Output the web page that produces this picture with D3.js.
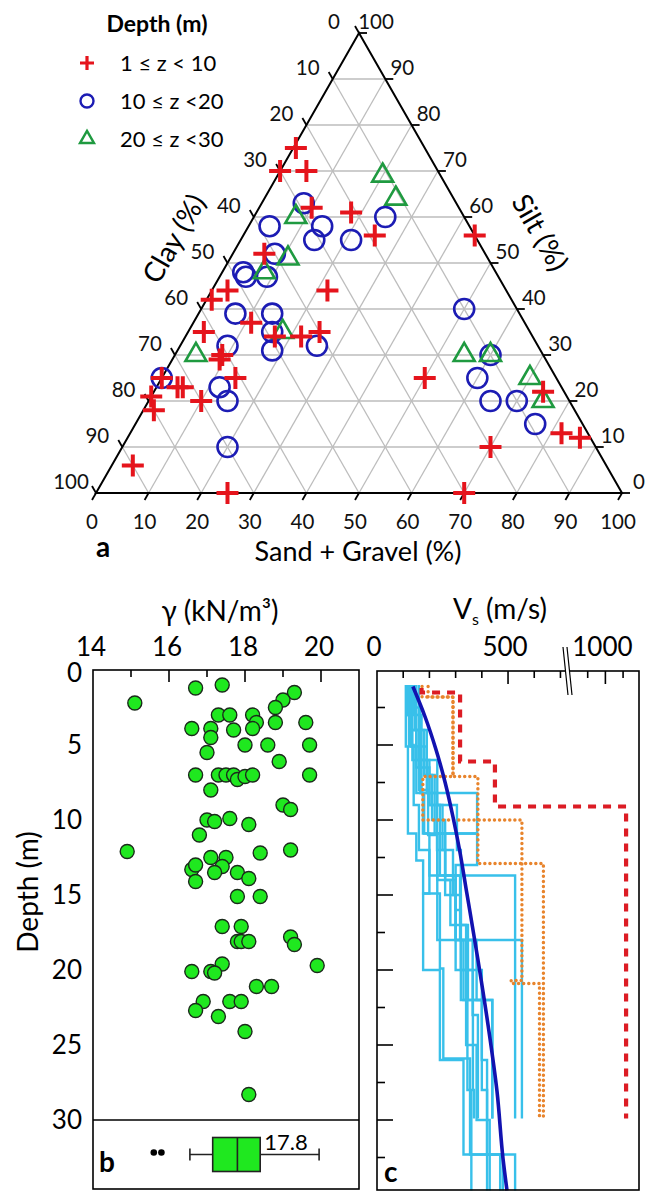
<!DOCTYPE html>
<html>
<head>
<meta charset="utf-8">
<script src="https://cdn.jsdelivr.net/npm/d3@7"></script>
<style>
  html, body { margin: 0; padding: 0; background: #fff; }
  svg { display: block; font-family: Lato, "Open Sans", sans-serif; }
</style>
</head>
<body>
<svg id="chart" width="645" height="1191"></svg>
<script>
// ─── Data ────────────────────────────────────────────────────────────────────

// Ternary samples: [sand + gravel %, silt %]  (clay = 100 - sand - silt)
const shallowPts = [[0.5,75],[0,70],[5,70],[10,62],[18,61],[25,56],[44,56],[6,52],[3,44],[1,42],
  [22,44],[11,37],[3,35],[22,34],[25,35],[9,30],[9,29],[14,25],[0,25],[4,23],[5,23],[0,21],
  [2,18],[10,20],[4,6],[25,0],[50,25],[74,22],[70,10],[70,0],[82,13],[86,12],[17,34]];
const midPts = [[8,63],[4,58],[14,58],[14,55],[21,55],[25,60],[8,52],[4,48],[5,47],[9,47],
  [7,39],[14,39],[16,35],[9,32],[18,31],[26,32],[0,25],[12,23],[15,20],[20,10],[50,40],
  [60,30],[60,25],[65,20],[70,20],[76,15]];
const deepPts = [[20,69],[25,64],[8,60],[11,51],[8,48],[18,35],[4,30],[55,30],[60,30],[70,25],[75,20]];

const legendLabels = ['1 \u2264 z < 10', '10 \u2264 z <20', '20 \u2264 z <30'];
const ternTicks = d3.range(0, 101, 10);

// Unit weight vs depth: [gamma kN/m3, depth m]
const gammaPts = [[15.1,2.2],[16.7,1.2],[17.4,1.0],[19.3,1.5],[19.0,2.0],[18.8,2.5],[17.3,3.0],
  [17.6,3.0],[18.2,3.0],[18.3,3.5],[18.8,3.5],[19.6,3.5],[16.6,3.9],[17.1,3.9],[17.7,4.0],
  [18.2,3.9],[17.1,4.5],[18.0,5.0],[18.6,5.0],[19.7,5.0],[17.0,5.5],[18.9,6.1],[16.7,7.0],
  [17.3,7.0],[17.5,7.0],[17.7,7.0],[17.8,7.3],[18.0,7.1],[18.2,7.0],[19.7,7.0],[17.1,8.0],
  [19.0,9.0],[19.2,9.3],[17.0,10.0],[17.2,10.1],[17.6,9.9],[18.1,10.3],[16.8,11.0],[18.4,12.2],
  [19.2,12.0],[14.9,12.1],[17.1,12.5],[17.5,12.5],[17.4,13.1],[16.6,13.3],[16.7,13.0],[17.2,13.5],
  [16.7,14.1],[17.8,13.5],[18.1,13.9],[17.8,15.1],[18.4,15.1],[17.4,17.1],[17.9,17.1],[17.8,18.1],
  [17.9,18.1],[18.1,18.1],[19.2,17.8],[19.3,18.3],[17.4,19.6],[17.1,20.1],[17.2,20.2],[16.6,20.1],
  [19.9,19.7],[18.3,21.1],[18.7,21.1],[16.9,22.1],[16.7,22.7],[17.6,22.1],[17.9,22.1],[17.3,23.1],
  [18.0,24.1],[18.1,28.3]];
const gammaBox = { lo: 16.55, q1: 17.15, med: 17.8, q3: 18.4, hi: 19.95 };
const gammaOutliers = [15.6, 15.8];
const gammaTicks = [14, 16, 18, 20];
const depthTicks = [0, 5, 10, 15, 20, 25, 30];

// Shear-wave velocity profiles: [depth m, Vs m/s] steps
const cyanProfiles = [
  [[1,110],[5.1,118],[8.2,118],[10.9,150],[12.7,176],[14.9,240],[19.9,253],[25.9,355],[32.3,470],[34.7,470]],
  [[1,118],[3,130],[5.1,165],[8.2,175],[10.9,200],[13.7,317],[18,330],[22,345],[28,360],[34.7,360]],
  [[1,125],[4,150],[6.5,200],[9,240],[13.7,300],[18,380],[22,440],[29.9,440]],
  [[1,140],[2.5,165],[5.1,190],[8.2,229],[12,260],[15,300],[18,365],[23,385],[29.9,385]],
  [[1,115],[3,135],[6,170],[8.2,382],[10.9,230],[14,280],[17,340],[20,400],[26,420],[32.3,480],[34.7,480]],
  [[1,145],[4,180],[7,210],[10,260],[13.7,527],[29.9,527]],
  [[1,132],[4,160],[8,195],[11,230],[18,553],[29.9,553]],
  [[1,122],[5.1,150],[8.2,180],[10.9,382],[13,300],[16,320],[20,340],[25,380],[30,430],[34.7,430]],
  [[1,150],[3,170],[6,200],[9,250],[12,290],[15,320],[22,400],[28,420],[34.7,420]],
  [[1,128],[5,140],[9,160],[12,200],[14.9,176],[20,240],[26,330],[32.3,527],[34.7,527]],
  [[1,160],[4,190],[7,220],[10.9,260],[14,300],[20,366],[28,370],[29.9,370]],
  [[1,138],[3,150],[6,230],[9,305],[12,320],[17,347],[22,440],[29.9,440]]
];
const orangeProfiles = [
  [[1.1,172],[1.8,290],[7.1,385],[12.9,635],[29.9,635]],
  [[1.1,195],[1.8,290],[7.1,175],[10,553],[20.7,512],[20.9,620],[29.9,620]]
];
const redProfile = [[1.2,170],[1.5,317],[6.1,450],[9.1,1117],[29.9,1117]];
const vsFit = [[1.1,137],[3.1,183],[5.3,225],[7.5,260],[9.8,290],[12,315],[14.9,343],
  [19.3,385],[23.7,424],[28.1,458],[32.6,481],[34.7,496]];
const vsTickLabels = [0, 500, 1000];
const vsMinorTicks = [100, 200, 300, 400, 600, 700, 900, 1100];

// ─── Setup ───────────────────────────────────────────────────────────────────

const svg = d3.select('#chart');
svg.append('rect').attr('width', 645).attr('height', 1191).attr('fill', '#fff');

const RED = '#e5141c', BLUE = '#1c1cb4', GREEN = '#1f9a40';

// ─── Ternary (a) ─────────────────────────────────────────────────────────────

const tx = d3.scaleLinear().domain([0, 100]).range([96, 622]);
const ty = d3.scaleLinear().domain([0, 100]).range([493, 33]);
const tern = (sand, silt) => [tx(sand + silt / 2), ty(silt)];

const ta = svg.append('g').attr('id', 'ternary');

const grid = ta.append('g').attr('stroke', '#bdbdbd').attr('stroke-width', 1.3);
d3.range(10, 100, 10).forEach(k => {
  [[tern(0, k), tern(100 - k, k)],
   [tern(k, 0), tern(k, 100 - k)],
   [tern(0, 100 - k), tern(100 - k, 0)]].forEach(([a, b]) => {
    grid.append('line').attr('x1', a[0]).attr('y1', a[1]).attr('x2', b[0]).attr('y2', b[1]);
  });
});

ta.append('path')
  .attr('d', d3.line()([tern(0, 0), tern(100, 0), tern(0, 100)]) + 'Z')
  .attr('fill', 'none').attr('stroke', '#000').attr('stroke-width', 2);

const tk = ta.append('g').attr('stroke', '#000').attr('stroke-width', 1.8);
const TL = 8, c60 = 0.5, s60 = Math.sqrt(3) / 2;
ternTicks.forEach(k => {
  const r = tern(100 - k, k);
  tk.append('line').attr('x1', r[0]).attr('y1', r[1]).attr('x2', r[0] + TL).attr('y2', r[1]);
  const b = tern(k, 0);
  tk.append('line').attr('x1', b[0]).attr('y1', b[1]).attr('x2', b[0] - TL * c60).attr('y2', b[1] + TL * s60);
  const l = tern(0, 100 - k);
  tk.append('line').attr('x1', l[0]).attr('y1', l[1]).attr('x2', l[0] - TL * c60).attr('y2', l[1] - TL * s60);
});

const tl = ta.append('g').attr('font-size', 20.5).attr('fill', '#111').attr('text-anchor', 'middle');
ternTicks.forEach(k => {
  const l = tern(0, 100 - k);
  tl.append('text').attr('x', l[0] - 25).attr('y', l[1] - 4).text(k);
  const r = tern(100 - k, k);
  tl.append('text').attr('x', r[0] + 17).attr('y', r[1] - 4).text(k);
  const b = tern(k, 0);
  tl.append('text').attr('x', b[0] - 4).attr('y', b[1] + 36).text(k);
});

ta.append('text').attr('transform', 'translate(173,238) rotate(-60)')
  .attr('text-anchor', 'middle').attr('dominant-baseline', 'central')
  .attr('font-size', 28).text('Clay (%)');
ta.append('text').attr('transform', 'translate(541,232) rotate(60)')
  .attr('text-anchor', 'middle').attr('dominant-baseline', 'central')
  .attr('font-size', 28).text('Silt (%)');
ta.append('text').attr('x', 358).attr('y', 561).attr('text-anchor', 'middle')
  .attr('font-size', 27).text('Sand + Gravel (%)');
ta.append('text').attr('x', 96).attr('y', 557).attr('font-size', 28)
  .attr('font-weight', 'bold').text('a');

// markers
const plusPath = r => `M${-r},0H${r}M0,${-r}V${r}`;
const tri = s => d3.symbol(d3.symbolTriangle).size(s * s * Math.sqrt(3) / 4)();

const mk = ta.append('g');
mk.selectAll('.cir').data(midPts).join('circle')
  .attr('cx', d => tern(d[0], d[1])[0]).attr('cy', d => tern(d[0], d[1])[1])
  .attr('r', 10).attr('fill', 'none').attr('stroke', BLUE).attr('stroke-width', 2.6);
mk.selectAll('.tri').data(deepPts).join('path')
  .attr('transform', d => `translate(${tern(d[0], d[1])})`)
  .attr('d', tri(21)).attr('fill', 'none').attr('stroke', GREEN).attr('stroke-width', 2.6);
mk.selectAll('.plus').data(shallowPts).join('path')
  .attr('transform', d => `translate(${tern(d[0], d[1])})`)
  .attr('d', plusPath(11)).attr('stroke', RED).attr('stroke-width', 4);

// legend
const lg = svg.append('g').attr('id', 'legend');
lg.append('text').attr('x', 157).attr('y', 32).attr('text-anchor', 'middle')
  .attr('font-size', 23).attr('font-weight', 'bold').text('Depth (m)');
legendLabels.forEach((lab, i) => {
  const y = 63 + i * 38;
  lg.append('text').attr('x', 120).attr('y', y + 8).attr('font-size', 22).text(lab);
  const g = lg.append('g').attr('transform', `translate(87,${y})`);
  if (i === 0) g.append('path').attr('d', plusPath(7)).attr('stroke', RED).attr('stroke-width', 3.2);
  if (i === 1) g.append('circle').attr('r', 6.5).attr('fill', 'none').attr('stroke', BLUE).attr('stroke-width', 2.4);
  if (i === 2) g.append('path').attr('d', tri(14)).attr('fill', 'none').attr('stroke', GREEN).attr('stroke-width', 2.4);
});

// ─── Panel b: unit weight ────────────────────────────────────────────────────

const xG = d3.scaleLinear().domain([14, 21]).range([93, 359]);
const yD = d3.scaleLinear().domain([0, 30]).range([670, 1120]);
const B_TOP = 670, B_BOT = 1189;

const pb = svg.append('g').attr('id', 'panel-b');

pb.selectAll('.gdot').data(gammaPts).join('circle')
  .attr('cx', d => xG(d[0])).attr('cy', d => yD(d[1])).attr('r', 7)
  .attr('fill', '#1fe81f').attr('stroke', '#1b2a1b').attr('stroke-width', 1.4);

pb.append('rect').attr('x', xG(14)).attr('y', B_TOP)
  .attr('width', xG(21) - xG(14)).attr('height', B_BOT - B_TOP)
  .attr('fill', 'none').attr('stroke', '#000').attr('stroke-width', 1.6);
pb.append('line').attr('x1', xG(14)).attr('x2', xG(21)).attr('y1', yD(30)).attr('y2', yD(30))
  .attr('stroke', '#000').attr('stroke-width', 1.6);

d3.range(15, 21).forEach(v => {
  pb.append('line').attr('x1', xG(v)).attr('x2', xG(v))
    .attr('y1', B_TOP).attr('y2', B_TOP + (v % 2 === 0 ? 12 : 7))
    .attr('stroke', '#000').attr('stroke-width', 1.6);
});
pb.selectAll('.gtl').data(gammaTicks).join('text')
  .attr('x', d => xG(d) - 2).attr('y', 656).attr('text-anchor', 'middle')
  .attr('font-size', 26).text(d => d);
pb.append('text').attr('x', 220).attr('y', 621).attr('text-anchor', 'middle')
  .attr('font-size', 28).text('\u03b3 (kN/m\u00b3)');

// depth axis labels (shared)
svg.append('g').selectAll('text').data(depthTicks).join('text')
  .attr('x', 82).attr('y', d => yD(d) + (d === 0 ? 12 : 9)).attr('text-anchor', 'end')
  .attr('font-size', 26).text(d => d);
svg.append('text').attr('transform', `translate(38,${yD(14.8)}) rotate(-90)`)
  .attr('text-anchor', 'middle').attr('font-size', 28).text('Depth (m)');

// box plot
const byC = (yD(30) + B_BOT) / 2;
const bx = pb.append('g').attr('stroke', '#222').attr('stroke-width', 1.6);
bx.append('line').attr('x1', xG(gammaBox.lo)).attr('x2', xG(gammaBox.hi)).attr('y1', byC).attr('y2', byC);
[gammaBox.lo, gammaBox.hi].forEach(v => {
  bx.append('line').attr('x1', xG(v)).attr('x2', xG(v)).attr('y1', byC - 6).attr('y2', byC + 6);
});
bx.append('rect').attr('x', xG(gammaBox.q1)).attr('y', byC - 17)
  .attr('width', xG(gammaBox.q3) - xG(gammaBox.q1)).attr('height', 34).attr('fill', '#1fe81f');
bx.append('line').attr('x1', xG(gammaBox.med)).attr('x2', xG(gammaBox.med))
  .attr('y1', byC - 17).attr('y2', byC + 17);
pb.append('text').attr('x', xG(gammaBox.q3) + 4).attr('y', byC - 5)
  .attr('font-size', 22).text(gammaBox.med.toFixed(1));
pb.selectAll('.out').data(gammaOutliers).join('circle')
  .attr('cx', d => xG(d)).attr('cy', byC - 2).attr('r', 3.3).attr('fill', '#000');
pb.append('text').attr('x', 99).attr('y', 1172).attr('font-size', 28)
  .attr('font-weight', 'bold').text('b');

// ─── Panel c: shear-wave velocity ────────────────────────────────────────────

const xV = d3.scaleLinear().domain([0, 725, 783, 1190]).range([377, 567, 567, 639]);
const C_L = 377, C_R = 639, C_TOP = 671, C_BOT = 1190;

const pc = svg.append('g').attr('id', 'panel-c');
svg.append('defs').append('clipPath').attr('id', 'clip-c')
  .append('rect').attr('x', C_L).attr('y', C_TOP).attr('width', C_R - C_L).attr('height', C_BOT - C_TOP + 5);

const stepPts = prof => {
  const pts = [];
  prof.forEach(([d, v], i) => {
    if (i > 0) pts.push([prof[i - 1][1], d]);
    pts.push([v, d]);
  });
  return pts;
};
const vLine = d3.line().x(p => xV(p[0])).y(p => yD(p[1]));

const plot = pc.append('g').attr('clip-path', 'url(#clip-c)');
plot.selectAll('.cy').data(cyanProfiles).join('path')
  .attr('d', p => vLine(stepPts(p))).attr('fill', 'none')
  .attr('stroke', '#38c0ea').attr('stroke-width', 2.4);
plot.selectAll('.or').data(orangeProfiles).join('path')
  .attr('d', p => vLine(stepPts(p))).attr('fill', 'none')
  .attr('stroke', '#e8842c').attr('stroke-width', 3.4)
  .attr('stroke-linecap', 'round').attr('stroke-dasharray', '0.1,5');
plot.append('path').attr('d', vLine(stepPts(redProfile))).attr('fill', 'none')
  .attr('stroke', '#dc1c24').attr('stroke-width', 4.2).attr('stroke-dasharray', '8,7');
plot.append('path')
  .attr('d', d3.line().x(p => xV(p[1])).y(p => yD(p[0])).curve(d3.curveMonotoneY)(vsFit))
  .attr('fill', 'none').attr('stroke', '#1212b0').attr('stroke-width', 3.6);

pc.append('rect').attr('x', C_L).attr('y', C_TOP).attr('width', C_R - C_L).attr('height', C_BOT - C_TOP)
  .attr('fill', 'none').attr('stroke', '#000').attr('stroke-width', 1.6);

const ct = pc.append('g').attr('stroke', '#000').attr('stroke-width', 1.6);
vsMinorTicks.forEach(v => ct.append('line').attr('x1', xV(v)).attr('x2', xV(v)).attr('y1', C_TOP).attr('y2', C_TOP + 7));
[500, 1000].forEach(v => ct.append('line').attr('x1', xV(v)).attr('x2', xV(v)).attr('y1', C_TOP).attr('y2', C_TOP + 13));
d3.range(2.5, 34, 2.5).forEach(d => {
  ct.append('line').attr('x1', C_L).attr('x2', C_L + (d % 5 === 0 ? 16 : 8))
    .attr('y1', yD(d)).attr('y2', yD(d));
});

// axis break
pc.append('path').attr('d', 'M563,660L568,682L572,682L567,660Z').attr('fill', '#fff');
pc.append('line').attr('x1', 563).attr('y1', 647).attr('x2', 568).attr('y2', 695).attr('stroke', '#000').attr('stroke-width', 1.2);
pc.append('line').attr('x1', 567).attr('y1', 647).attr('x2', 572).attr('y2', 695).attr('stroke', '#000').attr('stroke-width', 1.2);

pc.selectAll('.vtl').data(vsTickLabels).join('text')
  .attr('x', d => xV(d) - 3).attr('y', 656).attr('text-anchor', 'middle')
  .attr('font-size', 26).text(d => d);
const vsTitle = pc.append('text').attr('x', 500).attr('y', 619).attr('text-anchor', 'middle').attr('font-size', 28);
vsTitle.append('tspan').text('V');
vsTitle.append('tspan').attr('font-size', 16).attr('dy', 6).text('s');
vsTitle.append('tspan').attr('dy', -6).text(' (m/s)');
pc.append('text').attr('x', 384).attr('y', 1182).attr('font-size', 28)
  .attr('font-weight', 'bold').text('c');
</script>
</body>
</html>
